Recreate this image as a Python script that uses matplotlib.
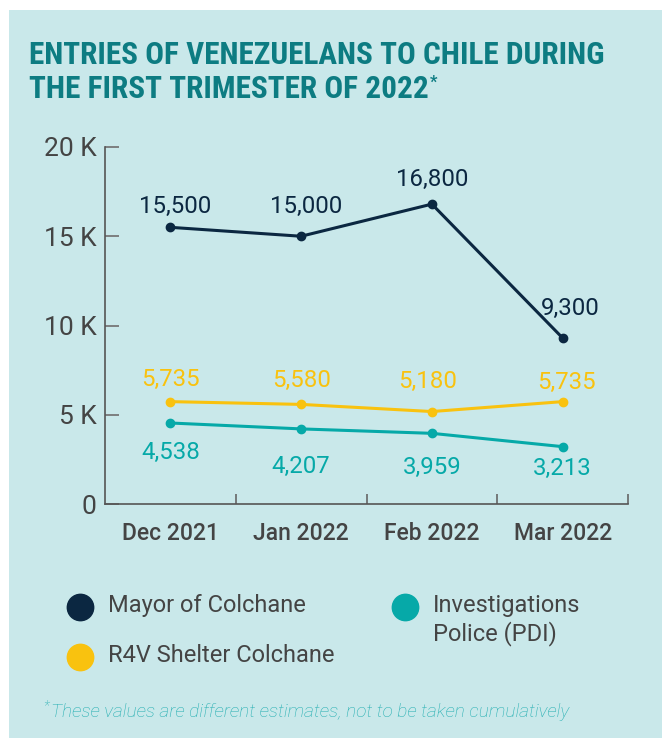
import numpy as np
import matplotlib.pyplot as plt
from matplotlib.patches import Rectangle
from matplotlib.lines import Line2D

# DATA
months = ['Dec 2021', 'Jan 2022', 'Feb 2022', 'Mar 2022']
mayor = [15500, 15000, 16800, 9300]
r4v = [5735, 5580, 5180, 5735]
pdi = [4538, 4207, 3959, 3213]
series_names = ['Mayor of Colchane', 'R4V Shelter Colchane', 'Investigations\nPolice (PDI)']
y_ticks = [0, 5000, 10000, 15000, 20000]
y_tick_labels = ['0', '5 K', '10 K', '15 K', '20 K']

title_lines = ['ENTRIES OF VENEZUELANS TO CHILE DURING', 'THE FIRST TRIMESTER OF 2022']
note_text = 'These values are different estimates, not to be taken cumulatively'

# STYLE
bg = '#c9e8ea'
navy = '#0b2741'
yellow = '#f9c20f'
teal = '#06a9a8'
gray = '#444444'
title_col = '#0d7c82'
note_col = '#22aeb1'
title_font = ['DejaVu Sans Condensed', 'Roboto Condensed', 'Liberation Sans Narrow', 'Roboto']
plt.rcParams['font.family'] = ['Roboto', 'DejaVu Sans']

W, H = 662, 738
fig = plt.figure(figsize=(W / 100, H / 100), dpi=100, facecolor='white')
fig.add_artist(Rectangle((9 / W, 0), 1, 1 - 10 / H, transform=fig.transFigure,
                         facecolor=bg, edgecolor='none', zorder=-10))

def px(x, y):
    return x / W, 1 - y / H

# title, one text per line so the asterisk can follow the last one
title_objs = []
for i, line in enumerate(title_lines):
    tx, ty = px(29, 55 + 34 * i)
    title_objs.append(fig.text(tx, ty, line, ha='left', va='center', color=title_col,
                               family=title_font, fontweight='bold', fontsize=22.5))
star = fig.text(0, 0, '*', color=title_col, fontsize=12, fontweight='bold',
                family=title_font, va='top')

ax = fig.add_axes([105 / W, 1 - 504 / H, (628 - 105) / W, (504 - 147) / H])
ax.set_facecolor('none')
x = np.arange(len(months))

# (series, color, label offsets in pixels)
plots = [
    (mayor, navy, [(5, 21), (5, 30), (0, 25), (8, 30)]),
    (r4v, yellow, [(0, 22), (0, 24), (-4, 30), (4, 19)]),
    (pdi, teal, [(0, -29), (0, -38), (0, -34), (0, -22)]),
]
for vals, col, offs in plots:
    ax.plot(x, vals, color=col, lw=2.2, marker='o', ms=6, zorder=3, clip_on=False)
    for xi, v, (dx, dy) in zip(x, vals, offs):
        ax.annotate(f'{v:,}', (xi, v), xytext=(dx * 0.72, dy * 0.72),
                    textcoords='offset points', ha='center', va='center',
                    fontsize=17.3, color=col)

ax.set_xlim(-0.5, len(months) - 0.5)
ax.set_ylim(0, 20000)
ax.set_yticks(y_ticks)
ax.set_yticklabels(y_tick_labels)
ax.set_xticks(x)
ax.set_xticklabels(months, fontweight='medium')
ax.set_xticks(x + 0.5, minor=True)
ax.tick_params(axis='x', which='major', length=0, pad=13, labelsize=16.5, labelcolor=gray)
ax.tick_params(axis='x', which='minor', direction='in', length=7, width=1.2, color='#666666')
ax.tick_params(axis='y', direction='in', length=10, width=1.3, color='#777777',
               pad=6, labelsize=19, labelcolor=gray)
for s in ['top', 'right']:
    ax.spines[s].set_visible(False)
for s in ['left', 'bottom']:
    ax.spines[s].set_color('#555555')
    ax.spines[s].set_linewidth(1.2)

# legend, drawn by hand
legend_pos = [(80, 607), (80, 657), (405, 607)]
for (lx, ly), name, col in zip(legend_pos, series_names, [navy, yellow, teal]):
    mx, my = px(lx, ly)
    fig.add_artist(Line2D([mx], [my], marker='o', ms=19, color=col,
                          transform=fig.transFigure))
    nx, _ = px(lx + 28, ly)
    _, ny = px(0, ly - 13)
    fig.text(nx, ny, name, ha='left', va='top', fontsize=17, color=gray,
             linespacing=1.2)

# footnote
fx, fy = px(43, 706)
fig.text(fx, fy, '*', fontsize=10, color=note_col, style='italic', fontweight='light',
         va='center')
fx, fy = px(51, 712)
fig.text(fx, fy, note_text, fontsize=13.7, color=note_col, style='italic',
         fontweight='light', va='center')

fig.canvas.draw()
bb = title_objs[-1].get_window_extent()
star.set_position(((bb.x1 + 1) / W, (bb.y1 - 1) / H))

fig.savefig('out.png', dpi=100, facecolor='white')
